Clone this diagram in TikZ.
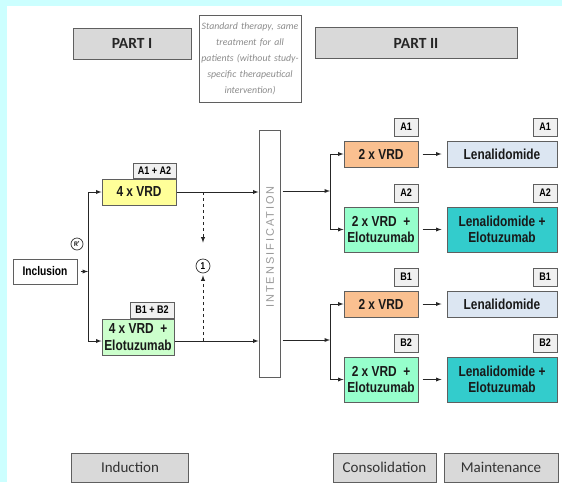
\documentclass[tikz,border=0pt]{standalone}
\usepackage{fontspec}
\setmainfont{Carlito}
\newfontfamily\narrowfont{Liberation Sans}[FakeStretch=0.82]
\newfontfamily\spacedfont{Liberation Sans}[LetterSpace=18]
\usetikzlibrary{positioning}

\definecolor{cyanbg}{RGB}{204,255,255}
\definecolor{headgrey}{RGB}{217,217,217}
\definecolor{edgegrey}{RGB}{95,95,95}
\definecolor{vrdyellow}{RGB}{255,255,153}
\definecolor{elogreen}{RGB}{204,255,204}
\definecolor{vrdorange}{RGB}{250,192,144}
\definecolor{lenablue}{RGB}{220,230,242}
\definecolor{elomint}{RGB}{150,255,204}
\definecolor{lenateal}{RGB}{51,204,204}

\tikzset{
  headbox/.style={draw=edgegrey, fill=headgrey, line width=1pt, minimum height=31pt, inner sep=0pt, text=black!85},
  armbox/.style={draw=edgegrey, line width=1pt, minimum width=74pt, inner sep=0pt, align=center,
    text=black!90, font=\narrowfont\bfseries\fontsize{14.5}{16.5}\selectfont},
  tagbox/.style={draw=edgegrey, fill=black!6, line width=0.8pt, inner sep=0pt, anchor=south east,
    font=\narrowfont\bfseries\fontsize{11}{12}\selectfont},
  link/.style={line width=0.9pt, black!85, -latex},
}

\begin{document}
\begin{tikzpicture}[x=1pt, y=-1pt]
  \fill[cyanbg] (0,0) rectangle (562,482);
  \fill[white] (7,6) rectangle (562,482);
  \useasboundingbox (0,0) rectangle (562,482);

  % headings
  \node[headbox, minimum width=118pt, font=\bfseries\fontsize{15.5}{17}\selectfont] (part1) at (132,43.5) {PART I};
  \node[draw=edgegrey, line width=0.8pt, minimum width=102pt, minimum height=87pt, text width=98pt, align=center,
    inner sep=0pt, text=black!45, font=\itshape\fontsize{9.8}{16}\selectfont] (std) at (250,58.5)
    {Standard therapy, same\\treatment for all\\patients (without study-\\specific therapeutical\\intervention)};
  \node[headbox, minimum width=202pt, font=\bfseries\fontsize{15.5}{17}\selectfont] (part2) at (416,43) {PART II};

  % inclusion and randomisation
  \def\rowA{192}
  \def\rowB{341}
  \node[draw=edgegrey, line width=1pt, minimum width=64pt, minimum height=25pt, inner sep=0pt,
    font=\narrowfont\bfseries\fontsize{12.5}{13}\selectfont] (incl) at (45,271.5) {Inclusion};
  \node[circle, draw=black!80, line width=0.7pt, inner sep=0pt, minimum size=12pt,
    font=\narrowfont\bfseries\fontsize{6.5}{6.5}\selectfont] (rand) at (77,244) {R\textsuperscript{*}};
  \coordinate (fork) at (88,271.5);
  \draw[link, shorten <=3pt] (incl.east) -- (fork);

  % part I
  \node[armbox, fill=vrdyellow, minimum height=26pt] (vrdA) at (139,\rowA) {4 x VRD};
  \node[armbox, fill=elogreen, minimum width=72pt, minimum height=36pt] (vrdB) at (138,337) {4 x VRD \ +\\Elotuzumab};
  \node[tagbox, minimum width=43pt, minimum height=15pt] (tagAB1) at (vrdA.north east) {A1 + A2};
  \node[tagbox, minimum width=44pt, minimum height=16pt] (tagAB2) at (vrdB.north east) {B1 + B2};
  \draw[line width=0.9pt, black!85] (fork |- vrdA.west) -- (88,\rowB);
  \draw[link] (fork |- vrdA.west) -- (vrdA.west);
  \draw[link] (88,\rowB) -- (vrdB.west |- 0,\rowB);

  % intensification
  \node[draw=edgegrey, line width=1pt, minimum width=21pt, minimum height=247pt, inner sep=0pt] (intens) at (269.5,253.5) {};
  \node[rotate=90, text=black!40, font=\spacedfont\fontsize{11}{11}\selectfont] (intenstxt) at (270,247) {INTENSIFICATION};
  \draw[link] (vrdA.east) -- (intens.west |- vrdA.east);
  \draw[link] (vrdB.east |- 0,\rowB) -- (intens.west |- 0,\rowB);

  % optional switch
  \coordinate (swtop) at (203,\rowA);
  \coordinate (swbot) at (203,\rowB);
  \node[circle, draw=black!80, line width=0.7pt, inner sep=0pt, minimum size=14pt,
    font=\narrowfont\bfseries\fontsize{10}{10}\selectfont] (swap) at (203,266) {1};
  \draw[dashed, line width=0.9pt, black!85, -latex, shorten >=16pt] (swtop) -- (swap.north);
  \draw[dashed, line width=0.9pt, black!85, -latex, shorten >=2pt] (swbot) -- (swap.south);

  % part II
  \foreach \ya/\yb/\ta/\tb in {154/229.5/A1/A2, 304/379.5/B1/B2} {
    \node[armbox, fill=vrdorange, minimum height=26pt] (cons\ta) at (381,\ya) {2 x VRD};
    \node[armbox, fill=lenablue, minimum width=110pt, minimum height=26pt] (main\ta) at (502,\ya) {Lenalidomide};
    \node[armbox, fill=elomint, minimum height=45pt] (cons\tb) at (381,\yb) {2 x VRD \ +\\Elotuzumab};
    \node[armbox, fill=lenateal, minimum width=110pt, minimum height=45pt] (main\tb) at (502,\yb) {Lenalidomide +\\Elotuzumab};
    \node[tagbox, minimum width=24pt, minimum height=18pt] (tagcons\ta) at ([yshift=4pt]cons\ta.north east) {\ta};
    \node[tagbox, minimum width=24pt, minimum height=18pt] (tagmain\ta) at ([yshift=4pt]main\ta.north east) {\ta};
    \node[tagbox, minimum width=24pt, minimum height=18pt] (tagcons\tb) at ([yshift=4pt]cons\tb.north east) {\tb};
    \node[tagbox, minimum width=24pt, minimum height=18pt] (tagmain\tb) at ([yshift=4pt]main\tb.north east) {\tb};
    \draw[link, shorten <=4pt, shorten >=5pt] (cons\ta) -- (main\ta);
    \draw[link, shorten <=4pt, shorten >=5pt] (cons\tb) -- (main\tb);
  }

  \coordinate (forkA) at (330,191);
  \coordinate (forkB) at (330,340);
  \draw[link, shorten <=2pt] (intens.east |- forkA) -- (forkA);
  \draw[link, shorten <=2pt] (intens.east |- forkB) -- (forkB);
  \draw[link] (forkA) |- (consA1.west);
  \draw[link] (forkA) |- (consA2.west);
  \draw[link] (forkB) |- (consB1.west);
  \draw[link] (forkB) |- (consB2.west);

  % phases
  \node[headbox, minimum width=117pt, minimum height=29pt, text=black!80, font=\fontsize{15}{17}\selectfont] (induc) at (130,467.5) {Induction};
  \node[headbox, minimum width=103pt, minimum height=29pt, text=black!80, font=\fontsize{15}{17}\selectfont] (consol) at (384.5,467.5) {Consolidation};
  \node[headbox, minimum width=114pt, minimum height=29pt, text=black!80, font=\fontsize{15}{17}\selectfont] (maint) at (501,467.5) {Maintenance};
\end{tikzpicture}
\end{document}
